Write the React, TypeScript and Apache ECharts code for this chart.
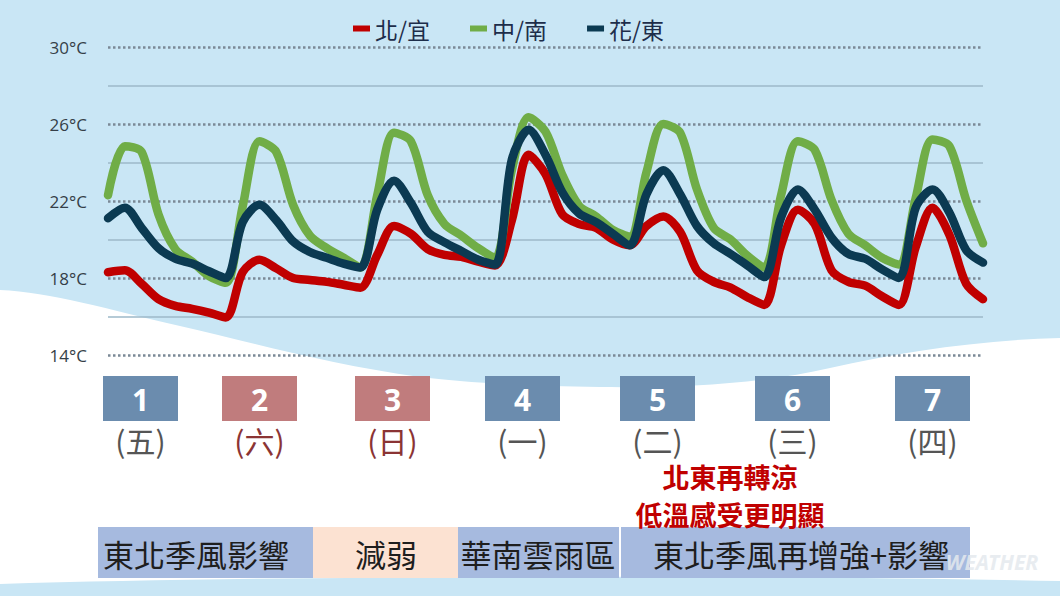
import React, { useEffect, useRef } from "react";
import * as echarts from "echarts";

// ---------- data ----------
const dayNumbers = ["1", "2", "3", "4", "5", "6", "7"];
const weekdays = ["(五)", "(六)", "(日)", "(一)", "(二)", "(三)", "(四)"];
const weekendDays = ["(六)", "(日)"];
const seriesNames = ["北/宜", "中/南", "花/東"];
const tempTicks = [14, 18, 22, 26, 30];

// 3-hourly temperatures (°C), first point day 1 09:00
const northYilan = [
  18.3, 18.4, 17.7, 16.9, 16.55, 16.4, 16.2, 15.95,
  18.3, 18.95, 18.5, 18.0, 17.9, 17.8, 17.65, 17.5,
  19.2, 20.7, 20.3, 19.5, 19.2, 19.1, 18.85, 18.65,
  21.0, 24.4, 23.4, 21.3, 20.8, 20.6, 20.0, 19.7,
  20.7, 21.2, 20.4, 18.4, 17.8, 17.5, 17.0, 16.6,
  19.7, 21.55, 20.8, 18.4, 17.8, 17.6, 17.05, 16.6,
  19.6, 21.65, 20.25, 17.7, 16.9,
];
const centralSouth = [
  22.3, 24.85, 24.55, 21.3, 19.5, 18.85, 18.1, 17.75,
  21.7, 25.1, 24.55, 21.8, 20.2, 19.55, 19.05, 18.55,
  22.3, 25.55, 25.1, 22.3, 20.8, 20.2, 19.55, 19.05,
  23.6, 26.35, 25.6, 23.35, 21.75, 21.2, 20.5, 20.15,
  23.5, 26.0, 25.55, 22.6, 20.6, 20.0, 19.15, 18.55,
  22.3, 25.1, 24.65, 22.05, 20.3, 19.7, 19.05, 18.7,
  22.15, 25.2, 24.85, 22.05, 19.8,
];
const hualienTaitung = [
  21.1, 21.65, 20.6, 19.55, 19.0, 18.75, 18.35, 18.0,
  20.9, 21.8, 21.0, 19.9, 19.35, 19.05, 18.75, 18.55,
  21.55, 23.05, 21.9, 20.4, 19.85, 19.4, 18.95, 18.7,
  24.15, 25.7, 24.4, 22.45, 21.35, 20.9, 20.3, 19.7,
  22.35, 23.6, 22.35, 20.7, 19.8, 19.25, 18.65, 18.05,
  21.15, 22.6, 21.55, 20.1, 19.25, 19.0, 18.45, 18.0,
  21.65, 22.6, 21.4, 19.45, 18.8,
];

const phases = ["東北季風影響", "減弱", "華南雲雨區", "東北季風再增強+影響"];
const noteLines = ["北東再轉涼", "低溫感受更明顯"];
const watermark = "WEATHER";

// ---------- background shapes ----------
const BG_TOP =
  "M0 0 H1060 V338 C980 340 900 352 830 368 C760 384 680 388 600 387 C520 386 460 382 420 377 C330 365 250 342 180 326 C110 310 50 292 0 290 Z";
const BG_BOTTOM = "M0 584 C300 575 760 575 1060 581 V596 H0 Z";
echarts.graphic.registerShape("bgTop", echarts.graphic.extendPath(BG_TOP, {}));
echarts.graphic.registerShape("bgBottom", echarts.graphic.extendPath(BG_BOTTOM, {}));

const CJK = "'Noto Sans CJK TC', 'Noto Sans CJK SC', sans-serif";

export default function App() {
  const ref = useRef<HTMLDivElement>(null);

  useEffect(() => {
    const chart = echarts.init(ref.current!, null, {
      renderer: "svg",
      width: 1060,
      height: 596,
    });

    const times = northYilan.map((_, i) => {
      const h = 9 + 3 * i;
      return `${dayNumbers[Math.floor(h / 24)]}日 ${String(h % 24).padStart(2, "0")}時`;
    });

    const lineColors = ["#c00000", "#70ad47", "#0b3a52"];
    const values = [northYilan, centralSouth, hualienTaitung];

    const skyBlue = "#c9e6f5";
    const boxBlue = "#6b8cae";
    const boxRose = "#c07c7d";
    const boxX = [103, 222, 355, 485, 620, 755, 895];
    const boxW = 75;

    const phaseBoxes = [
      { x: 98, w: 215, fill: "#a6badf", cx: 196 },
      { x: 313, w: 145, fill: "#fce2d2", cx: 386 },
      { x: 458, w: 161, fill: "#a6badf", cx: 538 },
      { x: 621, w: 349, fill: "#a6badf", cx: 801 },
    ];

    const graphics: any[] = [
      { type: "bgTop", x: 0, y: 0, z: -20, style: { fill: skyBlue } },
      { type: "bgBottom", x: 0, y: 0, z: -20, style: { fill: skyBlue } },
    ];

    dayNumbers.forEach((d, i) => {
      const cx = boxX[i] + boxW / 2;
      const weekend = weekendDays.includes(weekdays[i]);
      graphics.push({
        type: "rect",
        shape: { x: boxX[i], y: 376, width: boxW, height: 45 },
        style: { fill: weekend ? boxRose : boxBlue },
        z: 1,
      });
      graphics.push({
        type: "text",
        x: cx,
        y: 399,
        z: 2,
        style: {
          text: d,
          fill: "#ffffff",
          font: "bold 30px 'Noto Sans', sans-serif",
          lineHeight: 30,
          align: "center",
          verticalAlign: "middle",
        },
      });
      graphics.push({
        type: "text",
        x: cx,
        y: 440,
        z: 2,
        style: {
          text: weekdays[i],
          fill: weekend ? "#8b3434" : "#555555",
          font: `30px ${CJK}`,
          lineHeight: 30,
          align: "center",
          verticalAlign: "middle",
        },
      });
    });

    noteLines.forEach((t, i) => {
      graphics.push({
        type: "text",
        x: 730,
        y: 476 + i * 38,
        z: 2,
        style: {
          text: t,
          fill: "#c00000",
          font: `bold 27px ${CJK}`,
          lineHeight: 27,
          align: "center",
          verticalAlign: "middle",
        },
      });
    });

    phases.forEach((p, i) => {
      const b = phaseBoxes[i];
      graphics.push({
        type: "rect",
        shape: { x: b.x, y: 527, width: b.w, height: 51 },
        style: { fill: b.fill },
        z: 1,
      });
      graphics.push({
        type: "text",
        x: b.cx,
        y: 553,
        z: 2,
        style: {
          text: p,
          fill: "#1e1e1e",
          font: `31px ${CJK}`,
          align: "center",
          verticalAlign: "middle",
        },
      });
    });

    graphics.push({
      type: "text",
      x: 992,
      y: 562,
      z: 3,
      style: {
        text: watermark,
        fill: "rgba(228,233,238,0.85)",
        font: "italic bold 21px 'Noto Sans', sans-serif",
        align: "center",
        verticalAlign: "middle",
      },
    });

    const option: any = {
      animation: false,
      backgroundColor: "#ffffff",
      textStyle: { fontFamily: CJK },
      grid: {
        left: 108,
        right: 77,
        top: 47,
        bottom: 241,
        containLabel: false,
        outerBoundsMode: "none",
      },
      legend: {
        data: seriesNames,
        left: 348,
        top: 12,
        icon: "rect",
        itemWidth: 17,
        itemHeight: 6,
        itemGap: 40,
        itemStyle: { borderWidth: 0 },
        textStyle: { fontSize: 23, color: "#1d2d4a", fontFamily: CJK },
      },
      xAxis: {
        type: "category",
        data: times,
        boundaryGap: false,
        show: false,
      },
      yAxis: [
        {
          type: "value",
          min: 14,
          max: 30,
          interval: 2,
          axisLine: { show: false },
          axisTick: { show: false },
          axisLabel: {
            margin: 21,
            fontSize: 17,
            color: "#353f48",
            fontFamily: "'Open Sans', sans-serif",
            formatter: (v: number) => (tempTicks.includes(v) ? `${v}°C` : ""),
          },
          splitLine: {
            show: true,
            lineStyle: {
              type: [2.5, 2.5],
              width: 2.5,
              color: ["#7b8996", "rgba(0,0,0,0)"],
            },
          },
        },
        {
          type: "value",
          min: 14,
          max: 30,
          interval: 2,
          position: "left",
          axisLine: { show: false },
          axisTick: { show: false },
          axisLabel: { show: false },
          splitLine: {
            show: true,
            lineStyle: {
              type: "solid",
              width: 1.5,
              color: ["rgba(0,0,0,0)", "#9db8c8"],
            },
          },
        },
      ],
      series: seriesNames.map((name, i) => ({
        name,
        type: "line",
        yAxisIndex: 0,
        data: values[i],
        smooth: 0.3,
        symbol: "none",
        z: 3 + i,
        itemStyle: { color: lineColors[i] },
        lineStyle: { width: 8.5, color: lineColors[i], cap: "round", join: "round" },
      })),
      graphic: { elements: graphics },
    };

    chart.setOption(option);
    return () => chart.dispose();
  }, []);

  return (
    <div
      ref={ref}
      style={{ position: "fixed", left: 0, top: 0, width: 1060, height: 596 }}
    />
  );
}
